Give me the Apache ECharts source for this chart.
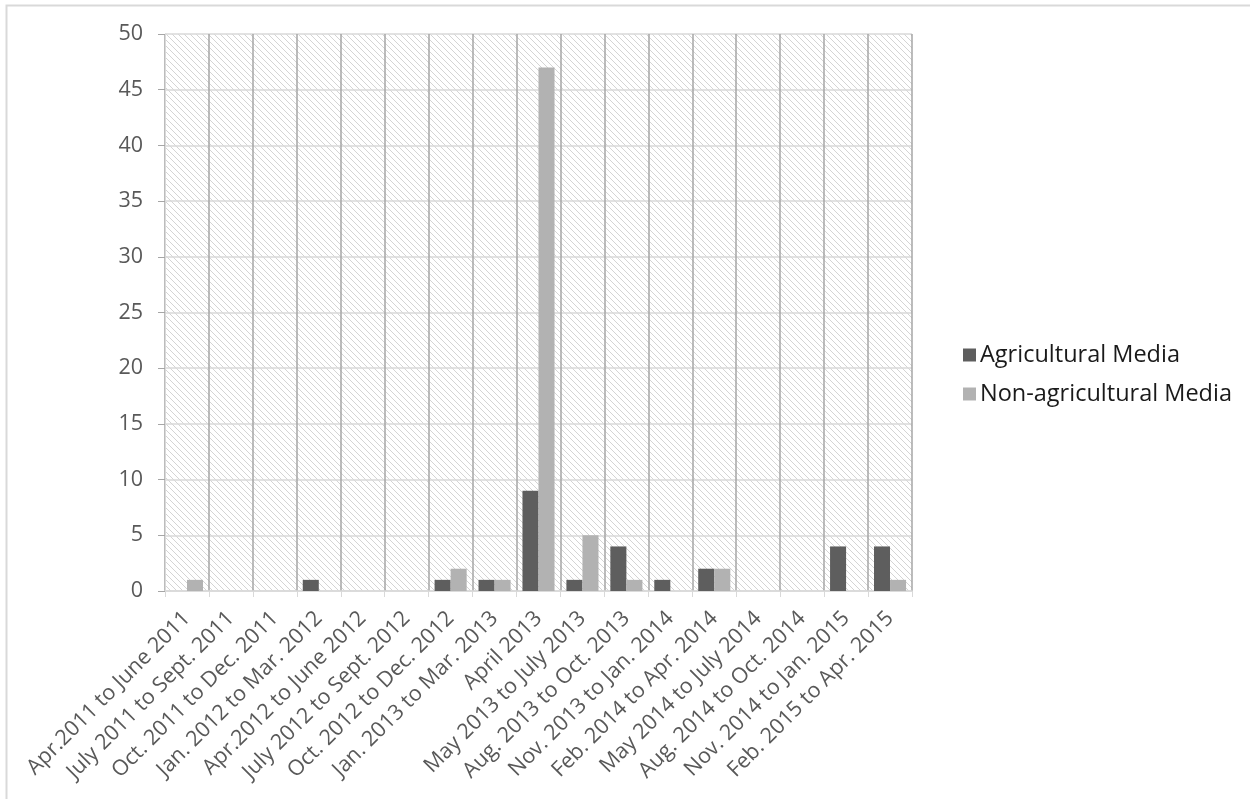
<!DOCTYPE html>
<html><head><meta charset="utf-8">
<script src="https://cdn.jsdelivr.net/npm/echarts@6/dist/echarts.min.js"></script>
<style>html,body{margin:0;padding:0;background:#fff}#c{width:1250px;height:799px}</style>
</head><body><div id="c"></div>
<script>
const categories = ["Apr.2011 to June 2011","July 2011 to Sept. 2011","Oct. 2011 to Dec. 2011","Jan. 2012 to Mar. 2012","Apr.2012 to June 2012","July 2012 to Sept. 2012","Oct. 2012 to Dec. 2012","Jan. 2013 to Mar. 2013","April 2013","May 2013 to July 2013","Aug. 2013 to Oct. 2013","Nov. 2013 to Jan. 2014","Feb. 2014 to Apr. 2014","May 2014 to July 2014","Aug. 2014 to Oct. 2014","Nov. 2014 to Jan. 2015","Feb. 2015 to Apr. 2015"];
const agricultural = [0,0,0,1,0,0,1,1,9,1,4,1,2,0,0,4,4];
const nonAgricultural = [1,0,0,0,0,0,2,1,47,5,1,0,2,0,0,0,1];
const seriesNames = ["Agricultural Media","Non-agricultural Media"];

const font = '"Open Sans", sans-serif';

const pc = document.createElement('canvas');
pc.width = 6; pc.height = 6;
const ctx = pc.getContext('2d');
ctx.fillStyle = '#ffffff'; ctx.fillRect(0,0,6,6);
ctx.strokeStyle = '#d4d4d4'; ctx.lineWidth = 1;
ctx.beginPath();
ctx.moveTo(-1,-1); ctx.lineTo(7,7);
ctx.moveTo(-4,2); ctx.lineTo(4,10);
ctx.moveTo(2,-4); ctx.lineTo(10,4);
ctx.stroke();

const chart = echarts.init(document.getElementById('c'));
chart.setOption({
  animation:false,
  graphic:[{type:'rect',shape:{x:6.5,y:5.5,width:1260,height:810},style:{fill:'none',stroke:'#d9d9d9',lineWidth:2},z:-10}],
  grid:{left:165,right:338,top:34,bottom:208,show:true,backgroundColor:{image:pc,repeat:'repeat'},borderWidth:0},
  legend:{orient:'vertical',left:958,top:338,itemWidth:13,itemHeight:13,itemGap:15,icon:'rect',
    textStyle:{fontSize:23.5,color:'#1a1a1a',fontFamily:font,padding:[0,0,0,-1]},data:seriesNames},
  xAxis:{type:'category',data:categories,
    axisLine:{show:true,lineStyle:{color:'#d9d9d9',width:1.5}},
    axisTick:{show:true,length:6,lineStyle:{color:'#d9d9d9'}},
    splitLine:{show:true,lineStyle:{color:'#a6a6a6',width:1.5}},
    axisLabel:{rotate:45,fontSize:21.5,color:'#595959',fontFamily:font,margin:24,interval:0}},
  yAxis:{type:'value',min:0,max:50,interval:5,
    axisLine:{show:true,lineStyle:{color:'#d9d9d9'}},
    axisTick:{show:true,length:7,lineStyle:{color:'#a6a6a6'}},
    splitLine:{show:true,lineStyle:{color:'#d9d9d9',width:1.5}},
    axisLabel:{fontSize:21.5,color:'#595959',fontFamily:font,margin:22}},
  series:[
    {name:seriesNames[0],type:'bar',data:agricultural,itemStyle:{color:'#5e5e5e'},barGap:'0%',barCategoryGap:'27%'},
    {name:seriesNames[1],type:'bar',data:nonAgricultural,itemStyle:{color:'#b2b2b2'},barGap:'0%',barCategoryGap:'27%'}
  ]
});
</script></body></html>
